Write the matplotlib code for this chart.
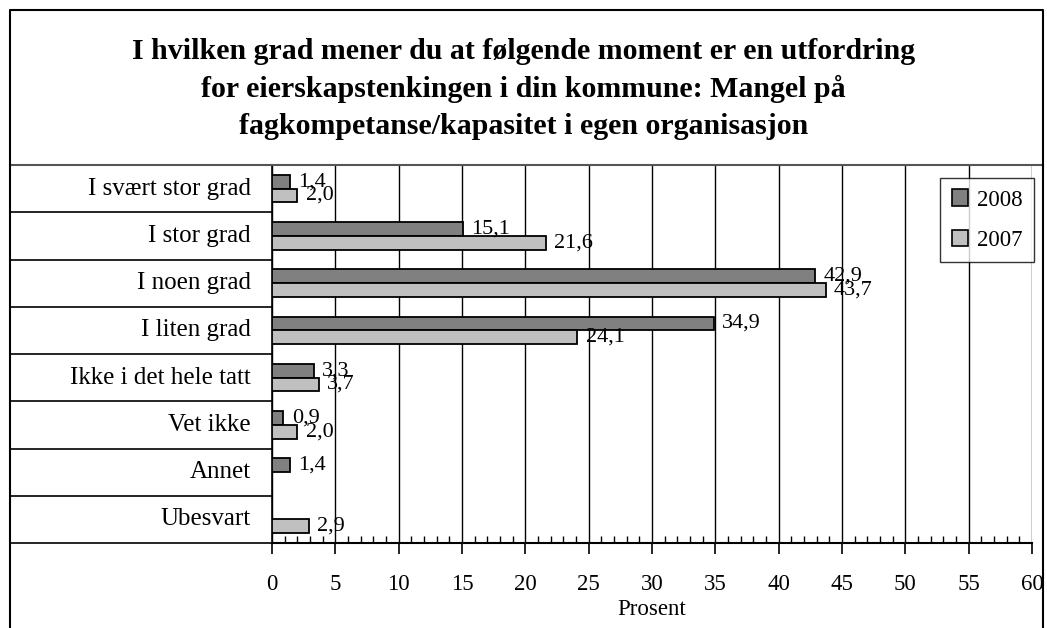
import matplotlib
matplotlib.use("Agg")
import matplotlib.pyplot as plt
from matplotlib.patches import Rectangle
from matplotlib.lines import Line2D
import numpy as np

plt.rcParams['font.family'] = ['Liberation Serif', 'DejaVu Serif']

categories = ["I svært stor grad", "I stor grad", "I noen grad", "I liten grad",
              "Ikke i det hele tatt", "Vet ikke", "Annet", "Ubesvart"]
vals_2008 = [1.4, 15.1, 42.9, 34.9, 3.3, 0.9, 1.4, None]
vals_2007 = [2.0, 21.6, 43.7, 24.1, 3.7, 2.0, None, 2.9]
series_names = ["2008", "2007"]
colors = ["#808080", "#c0c0c0"]
title = ("I hvilken grad mener du at følgende moment er en utfordring\n"
         "for eierskapstenkingen i din kommune: Mangel på\n"
         "fagkompetanse/kapasitet i egen organisasjon")
xticks = [0, 5, 10, 15, 20, 25, 30, 35, 40, 45, 50, 55, 60]

W, H = 1047, 628
fig = plt.figure(figsize=(W / 100, H / 100), dpi=100)

def fx(px):
    return px / W

def fy(py):
    return 1 - py / H

ax_l, ax_r, ax_t, ax_b = 272, 1032, 165, 543
ax = fig.add_axes([fx(ax_l), fy(ax_b), fx(ax_r) - fx(ax_l), fy(ax_t) - fy(ax_b)])

n = len(categories)
y = np.arange(n)
bh = 0.29
for i, (vals, col, name) in enumerate(zip([vals_2008, vals_2007], colors, series_names)):
    offs = -bh / 2 if i == 0 else bh / 2
    for yi, v in zip(y, vals):
        if v is None:
            continue
        ax.barh(yi + offs, v, height=bh, color=col, edgecolor="black", linewidth=1.3, zorder=3)
        ax.annotate(f"{v:.1f}".replace(".", ","), xy=(v, yi + offs), xytext=(6, 0),
                    textcoords="offset points", va="center", ha="left", fontsize=16, zorder=4)

ax.set_xlim(0, 60)
ax.set_ylim(n - 0.5, -0.5)
ax.set_xticks(xticks)
ax.set_xticklabels([str(t) for t in xticks], fontsize=16.5)
ax.set_xticks(np.arange(0, 61, 1), minor=True)
ax.tick_params(axis="x", which="major", direction="out", length=8, width=1.2, pad=14)
ax.tick_params(axis="x", which="minor", direction="in", length=5, width=1)
ax.set_yticks([])
ax.grid(axis="x", which="major", color="black", linewidth=1, zorder=0)
for s in ["top", "right"]:
    ax.spines[s].set_visible(False)
ax.spines["bottom"].set_linewidth(1.5)
ax.spines["left"].set_linewidth(1.2)
ax.set_xlabel("Prosent", fontsize=16.5, labelpad=3)

# category label table
row_h = (ax_b - ax_t) / n
for i, c in enumerate(categories):
    yc = ax_t + row_h * (i + 0.5)
    fig.text(fx(251), fy(yc), c, ha="right", va="center", fontsize=18)
for i in range(1, n + 1):
    yy = ax_t + row_h * i
    fig.add_artist(Line2D([fx(10), fx(ax_l)], [fy(yy), fy(yy)], color="black", linewidth=1.2))
# top line across full width
fig.add_artist(Line2D([fx(10), fx(1043)], [fy(ax_t), fy(ax_t)], color="#555555", linewidth=1.5))
# outer frame
fig.add_artist(Line2D([fx(10), fx(10), fx(1043), fx(1043)], [0, fy(10), fy(10), 0],
                      color="black", linewidth=1.5))

fig.text(0.5, fy(89), title, ha="center", va="center", fontsize=21.5, fontweight="bold",
         linespacing=1.45)

handles = [Rectangle((0, 0), 1, 1, facecolor=c, edgecolor="black", linewidth=1.2) for c in colors]
leg = fig.legend(handles, series_names, loc="upper right", bbox_to_anchor=(fx(1034), fy(178)),
                 bbox_transform=fig.transFigure, fontsize=16.5, frameon=True, fancybox=False,
                 edgecolor="black", handlelength=0.7, handleheight=0.7, handletextpad=0.4,
                 labelspacing=0.85, borderpad=0.5, borderaxespad=0)
leg.get_frame().set_linewidth(1.0)
leg.set_zorder(5)

fig.savefig("out.png", dpi=100)
